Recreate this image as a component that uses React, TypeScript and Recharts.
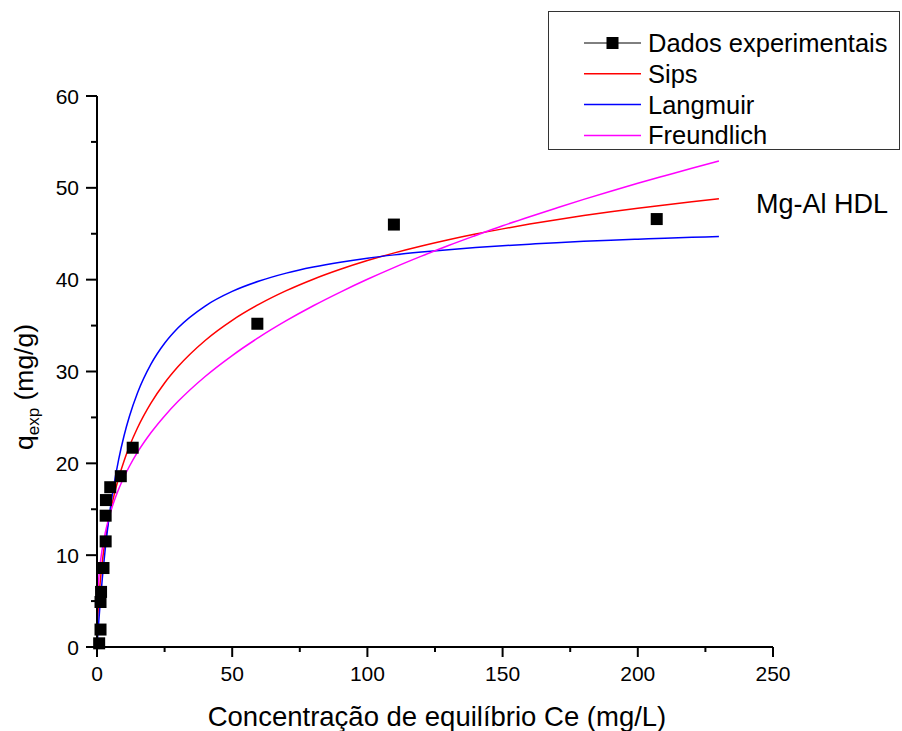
import React from 'react'
import { ComposedChart, Line, Scatter, XAxis, YAxis, Legend } from 'recharts'

// Isoterma de adsorção Mg-Al HDL: dados experimentais + ajustes (Sips, Langmuir, Freundlich)

// pontos experimentais (Ce em mg/L, q em mg/g)
const CE_EXP = [0.8, 1.3, 1.3, 1.5, 2.4, 3.2, 3.2, 3.3, 4.9, 8.8, 13.2, 59.3, 109.8, 207]
const Q_EXP = [0.4, 1.9, 4.9, 6.0, 8.6, 11.5, 14.3, 16.0, 17.4, 18.6, 21.7, 35.2, 46.0, 46.6]

// curvas de ajuste
const CE_FIT = [
  0, 0.1, 0.25, 0.5, 1, 2, 3, 4, 5, 6, 8, 10, 12, 15, 20, 25, 30, 40, 50, 60, 70, 80, 90, 100,
  110, 120, 130, 140, 150, 160, 170, 180, 190, 200, 210, 220, 230,
]
const SIPS = [
  0, 1.7, 2.9, 4.35, 6.43, 9.36, 11.55, 13.33, 14.84, 16.16, 18.4, 20.26, 21.85, 23.87, 26.58,
  28.75, 30.54, 33.38, 35.57, 37.33, 38.8, 40.05, 41.13, 42.08, 42.92, 43.67, 44.35, 44.97, 45.53,
  46.05, 46.53, 46.98, 47.39, 47.78, 48.14, 48.48, 48.8,
]
const LANGMUIR = [
  0, 0.45, 1.11, 2.16, 4.13, 7.59, 10.53, 13.05, 15.25, 17.18, 20.4, 23.0, 25.12, 27.68, 30.82,
  33.07, 34.76, 37.13, 38.72, 39.85, 40.71, 41.37, 41.9, 42.34, 42.7, 43.0, 43.27, 43.5, 43.7,
  43.87, 44.03, 44.17, 44.3, 44.41, 44.52, 44.61, 44.7,
]
const FREUNDLICH = [
  0, 3.96, 5.38, 6.79, 8.56, 10.8, 12.37, 13.62, 14.68, 15.6, 17.18, 18.51, 19.68, 21.21, 23.35,
  25.16, 26.75, 29.46, 31.74, 33.74, 35.53, 37.16, 38.65, 40.04, 41.34, 42.56, 43.72, 44.81,
  45.87, 46.86, 47.81, 48.74, 49.63, 50.49, 51.32, 52.14, 52.92,
]

const X_TICKS = [0, 25, 50, 75, 100, 125, 150, 175, 200, 225, 250]
const Y_TICKS = [0, 5, 10, 15, 20, 25, 30, 35, 40, 45, 50, 55, 60]

const SERIES = [
  { name: 'Dados experimentais', color: '#000000', marker: true },
  { name: 'Sips', color: '#ff0000', marker: false },
  { name: 'Langmuir', color: '#0000ff', marker: false },
  { name: 'Freundlich', color: '#ff00ff', marker: false },
]

const FONT = '"Liberation Sans", Arial, sans-serif'

const fitData = CE_FIT.map((ce, i) => ({
  ce,
  sips: SIPS[i],
  langmuir: LANGMUIR[i],
  freundlich: FREUNDLICH[i],
}))
const expData = CE_EXP.map((ce, i) => ({ ce, q: Q_EXP[i] }))

function XTick(props: any) {
  const { x, y, payload } = props
  const major = payload.value % 50 === 0
  return (
    <g>
      <line x1={x} x2={x} y1={y} y2={y + (major ? 10 : 5)} stroke="#000" strokeWidth={2} />
      {major && (
        <text x={x} y={y + 34} textAnchor="middle" fontSize={21} fontFamily={FONT} fill="#000">
          {payload.value}
        </text>
      )}
    </g>
  )
}

function YTick(props: any) {
  const { x, y, payload } = props
  const major = payload.value % 10 === 0
  return (
    <g>
      <line x1={x - (major ? 11 : 6)} x2={x} y1={y} y2={y} stroke="#000" strokeWidth={2} />
      {major && (
        <text x={x - 18} y={y + 7.5} textAnchor="end" fontSize={21} fontFamily={FONT} fill="#000">
          {payload.value}
        </text>
      )}
    </g>
  )
}

function renderLegend() {
  return (
    <div
      style={{
        width: 352,
        height: 139,
        border: '1.5px solid #333',
        boxSizing: 'border-box',
        background: '#fff',
      }}
    >
      <svg width={349} height={136} style={{ display: 'block' }}>
        {SERIES.map((s, i) => {
          const cy = 31 + i * 30.8
          return (
            <g key={s.name}>
              <line x1={35} x2={92} y1={cy} y2={cy} stroke={s.color} strokeWidth={s.marker ? 1 : 1.5} />
              {s.marker && <rect x={57.5} y={cy - 6} width={12} height={12} fill="#000" />}
              <text x={99} y={cy + 9} fontSize={25.5} fontFamily={FONT} fill="#000">
                {s.name}
              </text>
            </g>
          )
        })}
      </svg>
    </div>
  )
}

export default function App() {
  return (
    <div style={{ position: 'absolute', left: 0, top: 0, width: 902, height: 731, background: '#fff' }}>
      <ComposedChart
        width={902}
        height={731}
        data={fitData}
        margin={{ top: 96, right: 129, bottom: 54, left: 37 }}
      >
        <XAxis
          type="number"
          dataKey="ce"
          domain={[0, 250]}
          ticks={X_TICKS}
          interval={0}
          height={30}
          tickSize={0}
          tickMargin={0}
          tickLine={false}
          tick={<XTick />}
          axisLine={{ stroke: '#000', strokeWidth: 2 }}
          label={() => (
            <text x={437} y={726} textAnchor="middle" fontSize={27.5} fontFamily={FONT} fill="#000">
              Concentração de equilíbrio Ce (mg/L)
            </text>
          )}
        />
        <YAxis
          type="number"
          domain={[0, 60]}
          ticks={Y_TICKS}
          interval={0}
          width={60}
          tickSize={0}
          tickMargin={0}
          tickLine={false}
          tick={<YTick />}
          axisLine={{ stroke: '#000', strokeWidth: 2 }}
          label={() => (
            <text
              transform="rotate(-90)"
              x={-387}
              y={33}
              textAnchor="middle"
              fontSize={26.5}
              fontFamily={FONT}
              fill="#000"
            >
              q
              <tspan fontSize={17} dy={6}>
                exp
              </tspan>
              <tspan dy={-6}> (mg/g)</tspan>
            </text>
          )}
        />
        <Legend
          layout="horizontal"
          verticalAlign="middle"
          align="center"
          content={renderLegend}
          wrapperStyle={{ position: 'absolute', left: 548, top: 11, width: 352, height: 139 }}
        />
        <Line
          type="monotone"
          dataKey="sips"
          name="Sips"
          stroke="#ff0000"
          strokeWidth={1.5}
          dot={false}
          isAnimationActive={false}
        />
        <Line
          type="monotone"
          dataKey="langmuir"
          name="Langmuir"
          stroke="#0000ff"
          strokeWidth={1.5}
          dot={false}
          isAnimationActive={false}
        />
        <Line
          type="monotone"
          dataKey="freundlich"
          name="Freundlich"
          stroke="#ff00ff"
          strokeWidth={1.5}
          dot={false}
          isAnimationActive={false}
        />
        <Scatter
          data={expData}
          dataKey="q"
          name="Dados experimentais"
          fill="#000"
          isAnimationActive={false}
          shape={(p: any) => <rect x={p.cx - 6} y={p.cy - 6} width={12} height={12} fill="#000" />}
        />
      </ComposedChart>
      <svg
        width={902}
        height={731}
        style={{ position: 'absolute', left: 0, top: 0, pointerEvents: 'none' }}
      >
        <text x={756} y={213} fontSize={27} fontFamily={FONT} fill="#000">
          Mg-Al HDL
        </text>
      </svg>
    </div>
  )
}
